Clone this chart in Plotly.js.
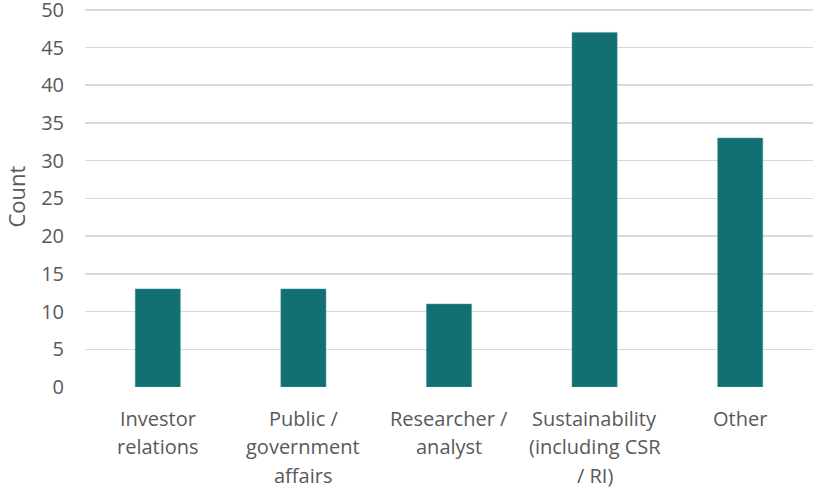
<!DOCTYPE html>
<html><head><meta charset="utf-8">
<script src="https://cdn.plot.ly/plotly-3.0.1.min.js"></script>
<style>html,body{margin:0;padding:0;background:#fff}#chart{width:813px;height:487px}</style>
</head><body><div id="chart"></div>
<script>
const categories = ["Investor relations", "Public / government affairs", "Researcher / analyst", "Sustainability (including CSR / RI)", "Other"];
const categoryLines = [["Investor", "relations"], ["Public /", "government", "affairs"], ["Researcher /", "analyst"], ["Sustainability", "(including CSR", "/ RI)"], ["Other"]];
const counts = [13, 13, 11, 47, 33];
const yTicks = [0, 5, 10, 15, 20, 25, 30, 35, 40, 45, 50];
const yTitle = "Count";

const annotations = [];
categoryLines.forEach((lines, ci) => {
  lines.forEach((ln, li) => {
    annotations.push({
      x: categories[ci], xref: 'x', y: 0, yref: 'paper',
      text: ln, showarrow: false, xanchor: 'center', yanchor: 'middle', borderpad: 0,
      yshift: -31 - li * 28.5, font: {size: 20, color: '#595959'}
    });
  });
});
annotations.push({
  x: 0, xref: 'paper', y: 0.5, yref: 'paper', xanchor: 'center', yanchor: 'middle',
  xshift: -70, text: yTitle, textangle: -90, showarrow: false, borderpad: 0,
  font: {size: 22, color: '#595959'}
});

Plotly.newPlot('chart', [{
  type: 'bar', x: categories, y: counts,
  marker: {color: '#126F72', line: {color: '#4E9A9C', width: 0.5}},
  hoverinfo: 'none'
}], {
  width: 813, height: 487,
  margin: {l: 85, r: 0, t: 6, b: 100},
  bargap: 0.69,
  paper_bgcolor: '#fff', plot_bgcolor: '#fff',
  font: {family: 'Open Sans, sans-serif', size: 20, color: '#595959'},
  xaxis: {showgrid: false, zeroline: false, showline: false, ticks: '', showticklabels: false},
  yaxis: {range: [0, 50.5], tickvals: yTicks, showgrid: true, gridcolor: '#D9D9D9', gridwidth: 1.5,
          zeroline: false, showline: false, ticks: '', ticklabelstandoff: 20, ticklabeloverflow: 'allow'},
  annotations: annotations,
  showlegend: false
}, {displayModeBar: false, staticPlot: true});
</script></body></html>
